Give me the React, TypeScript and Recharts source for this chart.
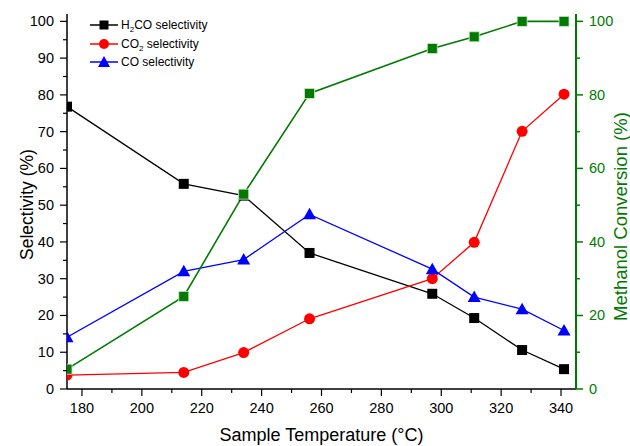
import React from 'react';
import { LineChart, Line, XAxis, YAxis, Legend } from 'recharts';

const FONT = '"Liberation Sans", Arial, sans-serif';
const GREEN = '#007a00';

// sample temperature (°C)
const temps = [175, 214, 234, 256, 297, 311, 327, 341];
// selectivities (%) - left axis
const h2coSel = [76.8, 55.8, 52.6, 37.0, 25.9, 19.3, 10.6, 5.4];
const co2Sel = [3.8, 4.5, 9.9, 19.1, 30.0, 39.9, 70.1, 80.2];
const coSel = [14.1, 32.0, 35.2, 47.5, 32.6, 25.0, 21.7, 15.9];
// methanol conversion (%) - right axis
const methanolConv = [5.4, 25.2, 53.0, 80.4, 92.6, 95.8, 100, 100];

const xTicks = [180, 190, 200, 210, 220, 230, 240, 250, 260, 270, 280, 290, 300, 310, 320, 330, 340];
const selTicks = [0, 5, 10, 15, 20, 25, 30, 35, 40, 45, 50, 55, 60, 65, 70, 75, 80, 85, 90, 95, 100];
const convTicks = [0, 10, 20, 30, 40, 50, 60, 70, 80, 90, 100];

const data = temps.map((t, i) => ({
  temp: t,
  h2co: h2coSel[i],
  co2: co2Sel[i],
  co: coSel[i],
  conv: methanolConv[i],
}));

// ticks: major ones get a label, minor ones only a short line
const XTick = ({ x, y, payload }: any) => {
  const major = payload.value % 20 === 0;
  return (
    <g>
      <line x1={x} y1={y} x2={x} y2={y + (major ? 7 : 4)} stroke="#000" strokeWidth={1.2} />
      {major && (
        <text x={x} y={y + 24} textAnchor="middle" fontSize={14.5} fontFamily={FONT} fill="#000">
          {payload.value}
        </text>
      )}
    </g>
  );
};

const LeftTick = ({ x, y, payload }: any) => {
  const major = payload.value % 10 === 0;
  return (
    <g>
      <line x1={x - (major ? 7 : 4)} y1={y} x2={x} y2={y} stroke="#000" strokeWidth={1.2} />
      {major && (
        <text x={x - 13} y={y + 5} textAnchor="end" fontSize={14.5} fontFamily={FONT} fill="#000">
          {payload.value}
        </text>
      )}
    </g>
  );
};

const RightTick = ({ x, y, payload }: any) => {
  const major = payload.value % 20 === 0;
  return (
    <g>
      <line x1={x} y1={y} x2={x + (major ? 7 : 4)} y2={y} stroke={GREEN} strokeWidth={1.5} />
      {major && (
        <text x={x + 13} y={y + 5} textAnchor="start" fontSize={14.5} fontFamily={FONT} fill={GREEN}>
          {payload.value}
        </text>
      )}
    </g>
  );
};

const squareDot = (color: string, stroke?: string) => (p: any) => (
  <rect key={`sq-${color}-${p.index}`} x={p.cx - 5} y={p.cy - 5} width={10} height={10} fill={color} stroke={stroke || 'none'} strokeWidth={0.8} />
);
const circleDot = (color: string) => (p: any) => (
  <circle key={`ci-${p.index}`} cx={p.cx} cy={p.cy} r={5.5} fill={color} />
);
const triDot = (color: string) => (p: any) => (
  <polygon key={`tr-${p.index}`} points={`${p.cx},${p.cy - 6.5} ${p.cx - 6.5},${p.cy + 5} ${p.cx + 6.5},${p.cy + 5}`} fill={color} />
);

const legendItems = [
  { key: 'h2co', color: '#000', shape: 'square' },
  { key: 'co2', color: '#ff0000', shape: 'circle' },
  { key: 'co', color: '#0000ff', shape: 'triangle' },
];

const sub = (s: string) => (
  <span style={{ fontSize: 8, position: 'relative', top: 3 }}>{s}</span>
);

const legendLabel = (key: string) => {
  if (key === 'h2co') return <>H{sub('2')}CO selectivity</>;
  if (key === 'co2') return <>CO{sub('2')} selectivity</>;
  return <>CO selectivity</>;
};

const ROW_H = 18.5;

const renderLegend = () => (
  <div style={{ position: 'relative', fontFamily: FONT, fontSize: 12, color: '#000', width: 160, height: ROW_H * 3 }}>
    {legendItems.map((it, i) => (
      <React.Fragment key={it.key}>
        <svg width={28} height={14} style={{ position: 'absolute', left: 0, top: i * ROW_H + 2, display: 'block' }}>
          <line x1={0} y1={7} x2={28} y2={7} stroke={it.color} strokeWidth={1.5} />
          {it.shape === 'square' && <rect x={9.5} y={2.5} width={9} height={9} fill={it.color} />}
          {it.shape === 'circle' && <circle cx={14} cy={7} r={5} fill={it.color} />}
          {it.shape === 'triangle' && <polygon points="14,1 8,12 20,12" fill={it.color} />}
        </svg>
        <span style={{ position: 'absolute', left: 31, top: i * ROW_H + 1, whiteSpace: 'nowrap', lineHeight: '16px' }}>
          {legendLabel(it.key)}
        </span>
      </React.Fragment>
    ))}
  </div>
);

export default function App() {
  return (
    <div style={{ position: 'absolute', left: 0, top: 0, width: 630, height: 446, background: '#fff' }}>
      <LineChart width={630} height={446} data={data} margin={{ top: 14, right: 0, bottom: 0, left: 0 }}>
        <XAxis
          dataKey="temp"
          type="number"
          domain={[175, 345]}
          ticks={xTicks}
          interval={0}
          height={57}
          tickSize={0}
          tickMargin={0}
          tickLine={false}
          allowDataOverflow
          axisLine={{ stroke: '#000', strokeWidth: 1.5 }}
          tick={(p: any) => <XTick {...p} />}
          label={{
            content: ({ viewBox }: any) => (
              <text x={viewBox.x + viewBox.width / 2} y={viewBox.y + 52} textAnchor="middle" fontSize={18} fontFamily={FONT} fill="#000">
                Sample Temperature (°C)
              </text>
            ),
          }}
        />
        <YAxis
          yAxisId="sel"
          domain={[0, 102]}
          ticks={selTicks}
          interval={0}
          width={67}
          tickSize={0}
          tickMargin={0}
          tickLine={false}
          allowDataOverflow
          axisLine={{ stroke: '#000', strokeWidth: 1.5 }}
          tick={(p: any) => <LeftTick {...p} />}
          label={{
            content: ({ viewBox }: any) => {
              const cx = viewBox.x + 27;
              const cy = viewBox.y + viewBox.height / 2 + 3;
              return (
                <text x={cx} y={cy} transform={`rotate(-90 ${cx} ${cy})`} textAnchor="middle" dominantBaseline="central" fontSize={17.5} fontFamily={FONT} fill="#000">
                  Selectivity (%)
                </text>
              );
            },
          }}
        />
        <YAxis
          yAxisId="conv"
          orientation="right"
          domain={[0, 102]}
          ticks={convTicks}
          interval={0}
          width={54}
          tickSize={0}
          tickMargin={0}
          tickLine={false}
          allowDataOverflow
          axisLine={{ stroke: GREEN, strokeWidth: 2 }}
          tick={(p: any) => <RightTick {...p} />}
          label={{
            content: ({ viewBox }: any) => {
              const cx = viewBox.x + 44;
              const cy = viewBox.y + viewBox.height / 2 + 15;
              return (
                <text x={cx} y={cy} transform={`rotate(-90 ${cx} ${cy})`} textAnchor="middle" dominantBaseline="central" fontSize={18.5} fontFamily={FONT} fill={GREEN}>
                  Methanol Conversion (%)
                </text>
              );
            },
          }}
        />
        <Legend
          layout="vertical"
          align="center"
          verticalAlign="middle"
          content={renderLegend}
          wrapperStyle={{ left: 90, top: 16, width: 160, height: ROW_H * 3 }}
        />
        <Line yAxisId="sel" dataKey="h2co" stroke="#000" strokeWidth={1.3} dot={squareDot('#000')} isAnimationActive={false} />
        <Line yAxisId="sel" dataKey="co2" stroke="#ff0000" strokeWidth={1.3} dot={circleDot('#ff0000')} isAnimationActive={false} />
        <Line yAxisId="sel" dataKey="co" stroke="#0000ff" strokeWidth={1.3} dot={triDot('#0000ff')} isAnimationActive={false} />
        <Line yAxisId="conv" dataKey="conv" stroke={GREEN} strokeWidth={1.6} dot={squareDot(GREEN, '#cfe8cf')} isAnimationActive={false} />
      </LineChart>
    </div>
  );
}
